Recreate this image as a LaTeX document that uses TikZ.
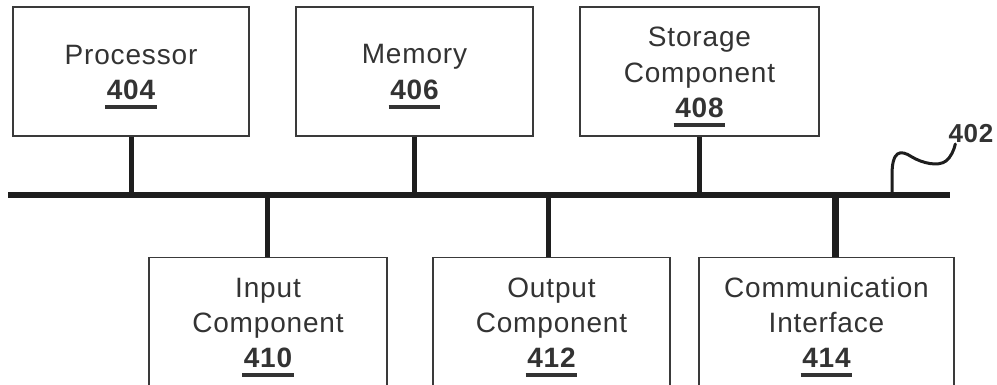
\documentclass[tikz,border=0pt]{standalone}
\usepackage{fontspec}
\setmainfont{Liberation Sans}[LetterSpace=3]
\definecolor{txt}{HTML}{333333}
\definecolor{edge}{HTML}{3A3A3A}
\definecolor{bus}{HTML}{1E1E1E}
\tikzset{
  comp/.style={draw=edge, line width=1.5pt, fill=white, rectangle, inner sep=0pt},
  lbl/.style={anchor=base, inner sep=0pt, text=txt, font=\fontsize{28}{34}\selectfont},
  num/.style={anchor=base, inner sep=0pt, text=txt, font=\fontsize{28}{34}\selectfont\bfseries},
  uline/.style={draw=txt, line width=4pt},
  busline/.style={draw=bus, line width=6pt},
  stem/.style={draw=bus, line width=5pt},
}
\begin{document}
\begin{tikzpicture}[x=1pt,y=1pt]
\useasboundingbox (0,0) rectangle (997,385);
\clip (0,0) rectangle (997,385);
\fill[white] (0,0) rectangle (997,385);
% bus
\coordinate (busL) at (8,190);
\coordinate (busR) at (950,190);
% top boxes
\node[comp, minimum width=236pt, minimum height=129pt] (proc) at (131,313.5) {};
\node[comp, minimum width=237pt, minimum height=129pt] (mem) at (414.5,313.5) {};
\node[comp, minimum width=239pt, minimum height=129pt] (stor) at (699.5,313.5) {};
% bottom boxes (cut off at the bottom)
\node[comp, anchor=north, minimum width=238pt, minimum height=160pt] (inp) at (268,128) {};
\node[comp, anchor=north, minimum width=237pt, minimum height=160pt] (outp) at (551.5,128) {};
\node[comp, anchor=north, minimum width=255pt, minimum height=160pt] (comm) at (826.5,128) {};
% stems
\draw[stem] (proc.south) -- (proc.south |- busL);
\draw[stem] (mem.south) -- (mem.south |- busL);
\draw[stem] (stor.south) -- (stor.south |- busL);
\draw[stem] ([xshift=-1pt]inp.north) -- ([xshift=-1pt]inp.north |- busL);
\draw[stem] ([xshift=-3.5pt]outp.north) -- ([xshift=-3.5pt]outp.north |- busL);
\draw[stem, line width=7pt] ([xshift=8.5pt]comm.north) -- ([xshift=8.5pt]comm.north |- busL);
\draw[busline] (busL) -- (busR);
% squiggle label
\coordinate (sq) at (892,190);
\node[anchor=base, inner sep=0pt, text=txt, font=\fontsize{26}{30}\selectfont\bfseries] (l402) at (971,242) {402};
\draw[draw=bus, line width=3pt, line cap=round] (sq) -- (892,210) .. controls (892,234) and (900,236) .. (912,228)
  .. controls (922,222) and (938,218) .. (946,224) .. controls (951,228) and (954,235) .. ([xshift=7pt,yshift=-1pt]l402.base west);
% texts: processor
\node[lbl] (t1) at (proc.center |- 0,320) {Processor};
\node[num] (n404) at (proc.center |- 0,285) {404};
\draw[uline] ([xshift=-1.5pt,yshift=-7pt]n404.base west) -- ([xshift=1.5pt,yshift=-7pt]n404.base east);
% memory
\node[lbl] (t2) at (mem.center |- 0,321) {Memory};
\node[num] (n406) at (mem.center |- 0,285) {406};
\draw[uline] ([xshift=-1.5pt,yshift=-7pt]n406.base west) -- ([xshift=1.5pt,yshift=-7pt]n406.base east);
% storage
\node[lbl] (t3a) at (stor.center |- 0,338) {Storage};
\node[lbl] (t3b) at (stor.center |- 0,302) {Component};
\node[num] (n408) at (stor.center |- 0,267) {408};
\draw[uline] ([xshift=-1.5pt,yshift=-7pt]n408.base west) -- ([xshift=1.5pt,yshift=-7pt]n408.base east);
% input
\node[lbl] (t4a) at (inp.north |- 0,87) {Input};
\node[lbl] (t4b) at (inp.north |- 0,52) {Component};
\node[num] (n410) at (inp.north |- 0,17) {410};
\draw[uline] ([xshift=-1.5pt,yshift=-7pt]n410.base west) -- ([xshift=1.5pt,yshift=-7pt]n410.base east);
% output
\node[lbl] (t5a) at (outp.north |- 0,87) {Output};
\node[lbl] (t5b) at (outp.north |- 0,52) {Component};
\node[num] (n412) at (outp.north |- 0,17) {412};
\draw[uline] ([xshift=-1.5pt,yshift=-7pt]n412.base west) -- ([xshift=1.5pt,yshift=-7pt]n412.base east);
% communication
\node[lbl] (t6a) at (comm.north |- 0,87) {Communication};
\node[lbl] (t6b) at (comm.north |- 0,52) {Interface};
\node[num] (n414) at (comm.north |- 0,17) {414};
\draw[uline] ([xshift=-1.5pt,yshift=-7pt]n414.base west) -- ([xshift=1.5pt,yshift=-7pt]n414.base east);
\end{tikzpicture}
\end{document}
